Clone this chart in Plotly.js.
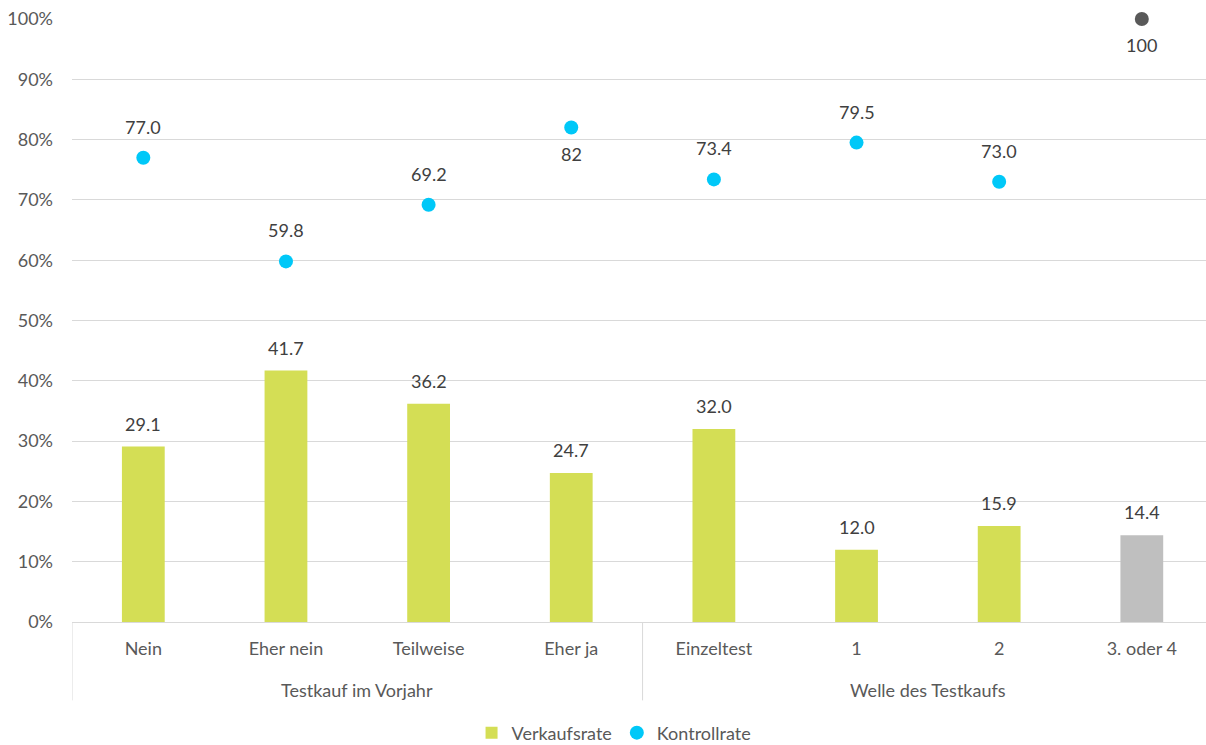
<!DOCTYPE html>
<html><head><meta charset="utf-8">
<script src="https://cdn.plot.ly/plotly-3.0.1.min.js"></script>
<style>html,body{margin:0;padding:0;background:#fff}#c{width:1206px;height:745px}</style>
</head><body><div id="c"></div>
<script>
const categories = ["Nein","Eher nein","Teilweise","Eher ja","Einzeltest","1","2","3. oder 4"];
const groups = ["Testkauf im Vorjahr","Welle des Testkaufs"];
const groupStart = [0, 4];
const groupEnd = [3, 7];
const verkaufsrate = [29.1, 41.7, 36.2, 24.7, 32.0, 12.0, 15.9, 14.4];
const kontrollrate = [77.0, 59.8, 69.2, 82, 73.4, 79.5, 73.0, 100];
const kontrollLabels = ["77.0","59.8","69.2","82","73.4","79.5","73.0","100"];
const verkaufLabels = ["29.1","41.7","36.2","24.7","32.0","12.0","15.9","14.4"];
const yTicks = [0,10,20,30,40,50,60,70,80,90,100];

const barColors = ["#D4DE55","#D4DE55","#D4DE55","#D4DE55","#D4DE55","#D4DE55","#D4DE55","#BFBFBF"];
const dotColors = ["#00C8F8","#00C8F8","#00C8F8","#00C8F8","#00C8F8","#00C8F8","#00C8F8","#595959"];
const dotLabelBelow = [false,false,false,true,false,false,false,true];

const xs = categories.map((c,i)=>i);
const FONT = "Lato, 'Open Sans', sans-serif";
const FS = 18;

const traces = [
  {type:'bar', name:'Verkaufsrate', x:xs, y:verkaufsrate, width:0.30,
   marker:{color:barColors}, hoverinfo:'skip'},
  {type:'scatter', mode:'markers', name:'Kontrollrate', x:xs, y:kontrollrate,
   marker:{color:dotColors, size:14}, hoverinfo:'skip', cliponaxis:false}
];

const annotations = [];
xs.forEach((x,i)=>{
  annotations.push({x:x, y:verkaufsrate[i], xref:'x', yref:'y', text:verkaufLabels[i],
    showarrow:false, yanchor:'middle', yshift:23, font:{family:FONT,size:FS,color:'#404040'}});
  annotations.push({x:x, y:kontrollrate[i], xref:'x', yref:'y', text:kontrollLabels[i],
    showarrow:false, yanchor:'middle', yshift: dotLabelBelow[i] ? -26 : 31, font:{family:FONT,size:FS,color:'#404040'}});
});
groups.forEach((g,i)=>{
  annotations.push({x:(groupStart[i]+groupEnd[i])/2, y:-0.113, xref:'x', yref:'paper', text:g,
    showarrow:false, yanchor:'middle', font:{family:FONT,size:FS,color:'#595959'}});
});

const shapes = [];
const divs = [groupStart[0]-0.5].concat(groupEnd.map(e=>e+0.5));
divs.forEach(d=>{
  shapes.push({type:'line', xref:'x', yref:'paper', x0:d, x1:d, y0:0, y1:-0.13,
    line:{color:'#D9D9D9', width:1}});
});

const layout = {
  width:1206, height:745,
  margin:{l:72, r:0, t:19, b:123, autoexpand:false},
  paper_bgcolor:'#fff', plot_bgcolor:'#fff',
  font:{family:FONT, size:FS, color:'#595959'},
  showlegend:true,
  legend:{orientation:'h', x:0.478, xanchor:'center', y:-0.184, yanchor:'middle',
    font:{family:FONT,size:FS,color:'#595959'}, itemwidth:30, tracegroupgap:0},
  xaxis:{range:[-0.5, 7.45], tickvals:xs, ticktext:categories, showgrid:false,
    zeroline:false, showline:true, linecolor:'#D9D9D9', linewidth:1, ticks:'',
    ticklabelstandoff:10, tickfont:{family:FONT,size:FS,color:'#595959'}, fixedrange:true},
  yaxis:{range:[0,100], tickvals:yTicks, ticktext:yTicks.map(v=>v+'%'), showgrid:true,
    gridcolor:'#D9D9D9', gridwidth:1, zeroline:false, ticks:'', ticklabelstandoff:18,
    tickfont:{family:FONT,size:FS,color:'#595959'}, fixedrange:true},
  annotations:annotations, shapes:shapes
};
Plotly.newPlot('c', traces, layout, {displayModeBar:false, staticPlot:true});
</script></body></html>
